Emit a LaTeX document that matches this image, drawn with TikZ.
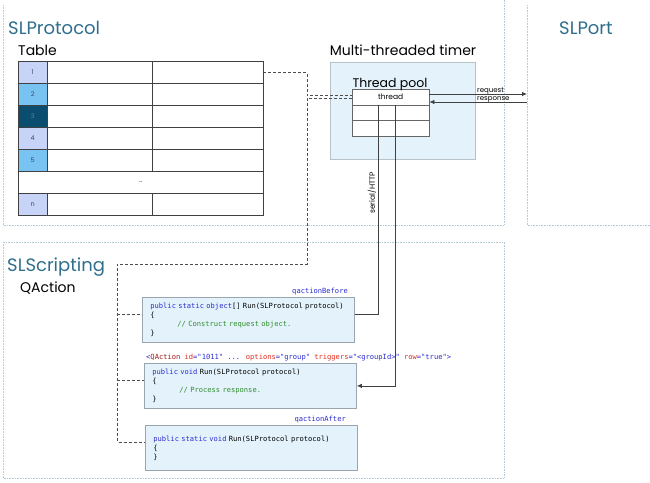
\documentclass[tikz,border=0pt]{standalone}
\usepackage{fontspec}
\setmainfont{Poppins}
\newfontfamily\codefont{DejaVu Sans Mono}
\usetikzlibrary{positioning, arrows.meta}

\definecolor{slblue}{HTML}{2F6E8C}
\definecolor{panelline}{HTML}{B4C9D5}
\definecolor{boxfill}{HTML}{E4F3FB}
\definecolor{boxline}{HTML}{9AA6AE}
\definecolor{idxlight}{HTML}{C7D4F8}
\definecolor{idxmid}{HTML}{78C3F1}
\definecolor{idxdark}{HTML}{0B4D6E}
\definecolor{idxtext}{HTML}{3A4A6A}
\definecolor{idxdarktext}{HTML}{5A7F96}
\definecolor{kwblue}{HTML}{2A2AD0}
\definecolor{cmtgreen}{HTML}{2E8B2E}
\definecolor{xmlred}{HTML}{E02A1E}
\definecolor{xmlbrown}{HTML}{A31515}

\newcommand{\kw}[1]{\textcolor{kwblue}{#1}}
\newcommand{\cm}[1]{\textcolor{cmtgreen}{#1}}
\newcommand{\xa}[1]{\textcolor{xmlred}{#1}}

\begin{document}
\begin{tikzpicture}[x=1pt, y=-1pt,
    % Styles
    panel/.style={draw=panelline, line width=0.6pt, densely dotted},
    paneltitle/.style={font=\fontsize{18}{21}\selectfont, text=slblue, anchor=base west, inner sep=0pt},
    subtitle/.style={font=\fontsize{14}{16}\selectfont, anchor=base west, inner sep=0pt},
    idxcell/.style={draw=black!75, minimum width=29pt, minimum height=22pt, inner sep=0pt, anchor=north west, text=idxtext, font=\fontsize{6.5}{7}\selectfont},
    cellA/.style={draw=black!75, minimum width=105pt, minimum height=22pt, inner sep=0pt, anchor=north west},
    cellB/.style={draw=black!75, minimum width=111pt, minimum height=22pt, inner sep=0pt, anchor=north west},
    threadcell/.style={draw=black!60, fill=white, minimum width=77pt, minimum height=15.5pt, inner sep=0pt, anchor=north west, font=\fontsize{7.5}{8}\selectfont},
    codebox/.style={draw=boxline, fill=boxfill, line width=0.8pt, minimum width=212pt, minimum height=45pt, text width=196pt, inner xsep=8pt, align=left, anchor=north west, font=\codefont\fontsize{7.1}{9}\selectfont},
    codelabel/.style={text=kwblue, inner sep=0pt, font=\codefont\fontsize{7.1}{9}\selectfont},
    smalllabel/.style={inner sep=0pt, font=\fontsize{7}{8}\selectfont},
    link/.style={draw=black!70, densely dashed, line width=0.6pt},
    wire/.style={draw=black!75, line width=0.8pt},
    arrow/.style={wire, -{Latex[length=5pt, width=4.5pt]}},
]
\useasboundingbox (0,0) rectangle (650,482);

% Panels
\draw[panel] (3,5) -- (3,225) -- (504,225) -- (504,0);
\draw[panel] (527,5) -- (527,225) -- (650,225);
\draw[panel] (3,242) rectangle (504,478);

\node[paneltitle] (protocol) at (8,34) {SLProtocol};
\node[paneltitle] (port) at (559,34) {SLPort};
\node[paneltitle] (scripting) at (7,271) {SLScripting};
\node[subtitle] (tabletitle) at (18,55) {Table};
\node[subtitle] (qactiontitle) at (20,292) {QAction};

% Table
\foreach \lbl/\col/\txt [count=\r from 0] in {1/idxlight/idxtext,2/idxmid/idxtext,3/idxdark/idxdarktext,4/idxlight/idxtext,5/idxmid/idxtext}{
  \node[idxcell, fill=\col, text=\txt] (idx\lbl) at (18, 61+22*\r) {\lbl};
  \node[cellA] (a\lbl) at (47, 61+22*\r) {};
  \node[cellB] (b\lbl) at (152, 61+22*\r) {};
}
\node[draw=black!75, minimum width=245pt, minimum height=22pt, inner sep=0pt, anchor=north west, font=\fontsize{6.5}{7}\selectfont] (dots) at (18,171) {..};
\node[idxcell, fill=idxlight] (idxn) at (18,193) {n};
\node[cellA] (an) at (47,193) {};
\node[cellB] (bn) at (152,193) {};

% Multi-threaded timer
\node[draw=boxline!70, fill=boxfill, minimum width=145pt, minimum height=97pt, anchor=north west] (timer) at (330,62) {};
\node[subtitle, anchor=base] (timertitle) at (403,55) {Multi-threaded timer};
\node[threadcell] (thread) at (352,89) {thread};
\node[threadcell] (slot1) at (352,104.5) {};
\node[threadcell] (slot2) at (352,120) {};
\node[smalllabel, font=\fontsize{12.5}{14}\selectfont, anchor=base] (pooltitle) at (390,87) {Thread pool};
\coordinate (tx1) at (378,104.5);
\coordinate (tx2) at (395,104.5);

% Port connectors
\coordinate (portin) at (527,94);
\coordinate (portout) at (527,102);
\draw[arrow] (thread.east |- portin) -- (portin);
\draw[arrow] (portout) -- (thread.east |- portout);
\node[smalllabel, anchor=base west] (req) at (477,92) {request};
\node[smalllabel, anchor=base west] (resp) at (477,100) {response};

% QAction code
\node[codebox] (code1) at (142,297) {\kw{public} \kw{static} \kw{object}[] Run(SLProtocol protocol)\\ \{\\ \hspace*{27pt}\cm{// Construct request object.}\\ \}};
\node[codelabel, anchor=base east] (before) at (348,293) {qactionBefore};
\node[codebox] (code2) at (144,363) {\kw{public} \kw{void} Run(SLProtocol protocol)\\ \{\\ \hspace*{27pt}\cm{// Process response.}\\ \}};
\node[codelabel, anchor=base west, text=black] (xmltag) at (146,359) {\textcolor{kwblue}{<}\textcolor{xmlbrown}{QAction} \xa{id}\kw{="1011"} \kw{...} \xa{options}\kw{="group"} \xa{triggers}\kw{="<groupId>"} \xa{row}\kw{="true">}};
\node[codebox] (code3) at (145,425) {\kw{public} \kw{static} \kw{void} Run(SLProtocol protocol)\\ \{\\ \}};
\node[codelabel, anchor=base east] (after) at (346,421) {qactionAfter};

% serial/HTTP
\draw[wire] (tx1) |- ([yshift=6pt]code1.east);
\draw[arrow] (tx2) |- (code2.east);
\node[smalllabel, font=\fontsize{7.5}{8}\selectfont, rotate=90, anchor=center] (serial) at (372,193) {serial/HTTP};

% Dashed links
\coordinate (bus) at (307,264);
\coordinate (qbus) at (117,264);
\draw[link] (b1.east) -| ([xshift=-45pt, yshift=1.5pt]thread.west) -- ([yshift=1.5pt]thread.west);
\draw[link] ([yshift=-1.5pt]thread.west) -| (bus) -- (qbus) |- ([yshift=6pt]code3.west);
\draw[link] (qbus |- code1.west) ++(0,-6) -- ([yshift=6pt]code1.west);
\draw[link] (qbus |- code2.west) ++(0,-6) -- ([yshift=6pt]code2.west);

\end{tikzpicture}
\end{document}
